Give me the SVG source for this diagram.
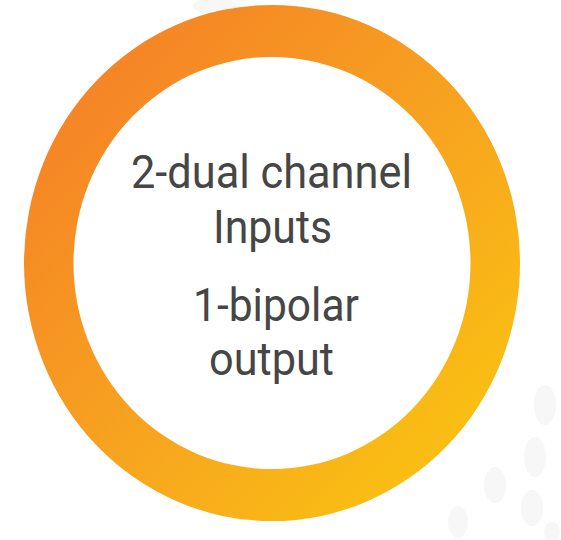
<svg xmlns="http://www.w3.org/2000/svg" width="561" height="540" viewBox="0 0 561 540">
  <defs>
    <linearGradient id="ringGrad" gradientUnits="userSpaceOnUse" x1="70" y1="70" x2="480" y2="470">
      <stop offset="0" stop-color="#F58226"/>
      <stop offset="0.5" stop-color="#F7A220"/>
      <stop offset="1" stop-color="#FAC311"/>
    </linearGradient>
    <style>
      .lbl { font-family: Roboto, "Noto Sans", "Liberation Sans", sans-serif; font-size: 46px; fill: #464646; text-anchor: middle; }
      .dot { fill: #F7F7F7; }
    </style>
  </defs>
  <rect width="561" height="540" fill="#FFFFFF"/>
  <g id="background-dots">
    <ellipse class="dot" cx="215" cy="6" rx="22" ry="8"/>
    <ellipse class="dot" cx="545" cy="405" rx="11" ry="20"/>
    <ellipse class="dot" cx="535" cy="457" rx="11" ry="20"/>
    <ellipse class="dot" cx="495" cy="485" rx="11" ry="18"/>
    <ellipse class="dot" cx="532" cy="508" rx="11" ry="18"/>
    <ellipse class="dot" cx="458" cy="522" rx="10" ry="16"/>
    <ellipse class="dot" cx="552" cy="532" rx="8" ry="10"/>
  </g>
  <g id="ring">
    <path fill="url(#ringGrad)" fill-rule="evenodd" d="M24,263 A248,258 0 1,0 520,263 A248,258 0 1,0 24,263 Z M73.5,263 A198.5,206 0 1,0 470.5,263 A198.5,206 0 1,0 73.5,263 Z"/>
  </g>
  <g id="label">
    <text class="lbl" x="271.5" y="188" textLength="281" lengthAdjust="spacingAndGlyphs">2-dual channel</text>
    <text class="lbl" x="272.5" y="243" textLength="119" lengthAdjust="spacingAndGlyphs">Inputs</text>
    <text class="lbl" x="276" y="321" textLength="166" lengthAdjust="spacingAndGlyphs">1-bipolar</text>
    <text class="lbl" x="271.5" y="375" textLength="125" lengthAdjust="spacingAndGlyphs">output</text>
  </g>
</svg>
